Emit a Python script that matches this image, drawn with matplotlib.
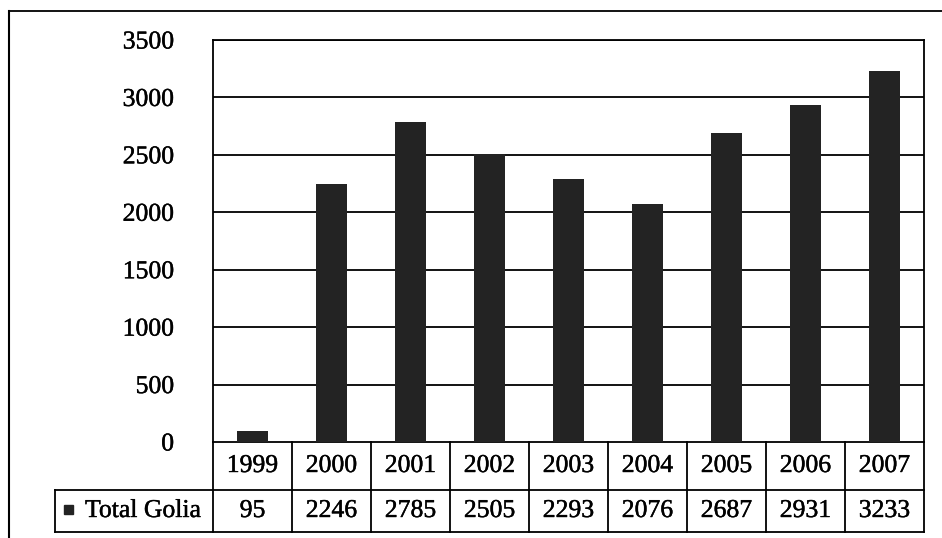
import matplotlib
matplotlib.use("Agg")
import matplotlib.pyplot as plt
from matplotlib.lines import Line2D
from matplotlib.patches import Rectangle
import matplotlib.transforms as mtransforms
import matplotlib.patheffects as pe

years = ["1999", "2000", "2001", "2002", "2003", "2004", "2005", "2006", "2007"]
total_golia = [95, 2246, 2785, 2505, 2293, 2076, 2687, 2931, 3233]
series_name = "Total Golia"
y_ticks = [0, 500, 1000, 1500, 2000, 2500, 3000, 3500]

W, H = 942, 538
FONT = "Liberation Serif"
FS = 18.5
BAR = "#232323"
INK = [pe.withStroke(linewidth=0.3, foreground="black")]

fig = plt.figure(figsize=(W / 100, H / 100), dpi=100)
fig.patch.set_facecolor("white")

def fx(px):
    return px / W

def fy(py):
    return 1 - py / H

left, right, top, bottom = 213, 924, 40, 442
ax = fig.add_axes([fx(left), fy(bottom), fx(right) - fx(left), fy(top) - fy(bottom)])

x = list(range(len(years)))
ax.bar(x, total_golia, width=0.4, color=BAR, zorder=3)
ax.set_xlim(-0.5, len(years) - 0.5)
ax.set_ylim(0, 3500)
ax.set_yticks(y_ticks)
ax.set_yticklabels([str(v) for v in y_ticks], fontfamily=FONT, fontsize=FS)
for t in ax.get_yticklabels():
    t.set_path_effects(INK)
ax.tick_params(axis="y", length=0, pad=28)
ax.set_xticks([])
for v in y_ticks[1:]:
    ax.axhline(v, color="black", lw=1.3, zorder=2)
for s in ax.spines.values():
    s.set_color("black")
    s.set_linewidth(1.3)

# data table under the plot: x in category units, y in axes fraction
trans = mtransforms.blended_transform_factory(ax.transData, ax.transAxes)
plot_h = bottom - top
row1 = -(490 - bottom) / plot_h
row2 = -(532 - bottom) / plot_h
lw = 1.3
n = len(years)

def hline(x0, x1, y):
    ax.add_line(Line2D([x0, x1], [y, y], transform=trans, color="black", lw=lw, clip_on=False))

def vline(xv, y0, y1):
    ax.add_line(Line2D([xv, xv], [y0, y1], transform=trans, color="black", lw=lw, clip_on=False))

hline(-2.5, n - 0.5, row1)
hline(-2.5, n - 0.5, row2)
for i in range(n + 1):
    vline(i - 0.5, 0, row2)
vline(-2.5, row1, row2)

mid1 = row1 / 2
mid2 = (row1 + row2) / 2
for i, (yr, val) in enumerate(zip(years, total_golia)):
    ax.text(i, mid1, yr, transform=trans, ha="center", va="center",
            fontfamily=FONT, fontsize=FS, clip_on=False, path_effects=INK)
    ax.text(i, mid2, str(val), transform=trans, ha="center", va="center",
            fontfamily=FONT, fontsize=FS, clip_on=False, path_effects=INK)

# legend key and series name in the first column
key_x, key_w = -2.386, 0.114
key_h = 9 / plot_h
ax.add_patch(Rectangle((key_x, mid2 - key_h / 2 + 0.004), key_w, key_h, transform=trans,
                       color=BAR, clip_on=False))
ax.text(-2.12, mid2, series_name, transform=trans, ha="left", va="center",
        fontfamily=FONT, fontsize=FS, clip_on=False, path_effects=INK)

# outer chart frame
fig.add_artist(Line2D([fx(9), fx(9)], [fy(11), fy(H)], transform=fig.transFigure,
                      color="black", lw=1.5))
fig.add_artist(Line2D([fx(9), fx(W)], [fy(11), fy(11)], transform=fig.transFigure,
                      color="black", lw=1.3))

fig.savefig("out.png", dpi=100, facecolor="white")
